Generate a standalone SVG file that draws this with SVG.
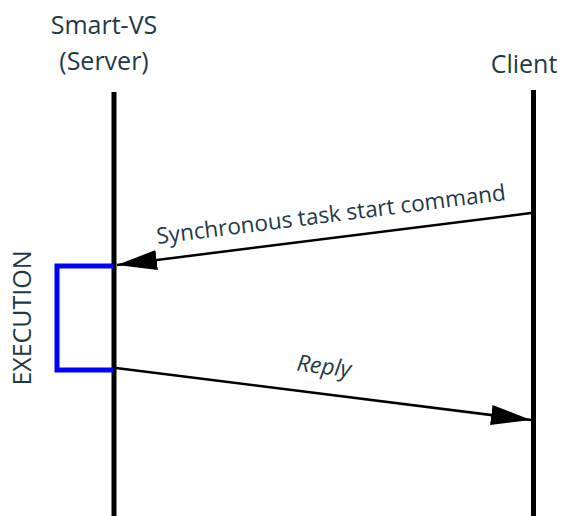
<svg xmlns="http://www.w3.org/2000/svg" width="561" height="516" viewBox="0 0 561 516">
<style>
.t{font-family:"Open Sans","Noto Sans",sans-serif;fill:#1f3a47}
.life{stroke:#000;stroke-width:5;fill:none}
.msg{stroke:#000;stroke-width:2.5;fill:none}
</style>
<defs>
<marker id="ah" viewBox="0 0 40 20" refX="40" refY="10" markerWidth="40" markerHeight="20" markerUnits="userSpaceOnUse" orient="auto">
<path d="M0,0 L40,10 L0,20 z" fill="#000"/>
</marker>
</defs>
<rect width="561" height="516" fill="#fff"/>
<g id="server">
<text class="t" x="104" y="34" font-size="25" text-anchor="middle">Smart-VS</text>
<text class="t" x="104" y="70" font-size="25" text-anchor="middle">(Server)</text>
<line class="life" x1="114" y1="92" x2="114" y2="516"/>
</g>
<g id="client">
<text class="t" x="524" y="73" font-size="25" text-anchor="middle">Client</text>
<line class="life" x1="533.5" y1="90" x2="533.5" y2="516"/>
</g>
<g id="execution">
<path d="M113,266 H57 V370 H113" fill="none" stroke="#0000ff" stroke-width="5"/>
<text class="t" transform="translate(31,318) rotate(-90)" font-size="25" text-anchor="middle">EXECUTION</text>
</g>
<g id="connectors">
<line class="msg" x1="531" y1="213" x2="117" y2="265" marker-end="url(#ah)"/>
<text class="t" transform="translate(332,222) rotate(-7.2)" font-size="22.5" text-anchor="middle">Synchronous task start command</text>
<line class="msg" x1="116" y1="368" x2="531" y2="420" marker-end="url(#ah)"/>
<text class="t" transform="translate(323,374) rotate(7.2)" font-size="23" font-style="italic" text-anchor="middle">Reply</text>
</g>
</svg>
